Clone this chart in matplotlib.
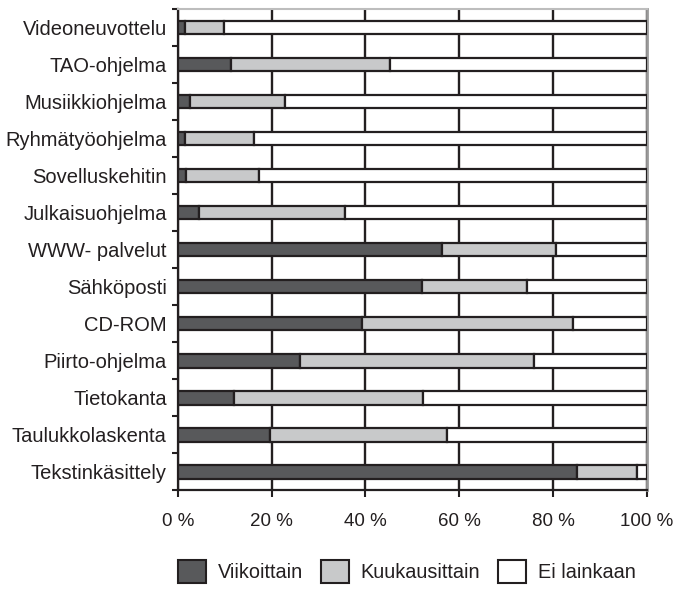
import numpy as np
import matplotlib
matplotlib.use("Agg")
import matplotlib.pyplot as plt
from matplotlib.patches import Patch

plt.rcParams["font.family"] = ["Liberation Sans", "DejaVu Sans"]

# ------------------------------
# Usage frequency by application (%)
# ------------------------------
categories = [
    "Videoneuvottelu", "TAO-ohjelma", "Musiikkiohjelma", "Ryhmätyöohjelma",
    "Sovelluskehitin", "Julkaisuohjelma", "WWW- palvelut", "Sähköposti",
    "CD-ROM", "Piirto-ohjelma", "Tietokanta", "Taulukkolaskenta",
    "Tekstinkäsittely",
]
weekly = [1.6, 11.4, 2.7, 1.5, 1.8, 4.6, 56.3, 52.1, 39.3, 26.0, 12.0, 19.6, 85.0]
monthly = [8.3, 33.9, 20.1, 14.8, 15.6, 31.0, 24.4, 22.4, 45.0, 49.9, 40.3, 37.7, 12.9]
never = [100 - w - m for w, m in zip(weekly, monthly)]

series_names = ["Viikoittain", "Kuukausittain", "Ei lainkaan"]
colors = ["#58595b", "#c8c9ca", "#ffffff"]
edge = "#231f20"

# ------------------------------
# Plot stacked bars
# ------------------------------
fig = plt.figure(figsize=(6.76, 5.90), dpi=100)
ax = fig.add_axes([0.263, 0.169, 0.694, 0.816])

y = np.arange(len(categories))[::-1]
left = np.zeros(len(categories))
for vals, col in zip([weekly, monthly, never], colors):
    ax.barh(y, vals, left=left, height=0.37, color=col,
            edgecolor=edge, linewidth=1.6, zorder=3)
    left += np.array(vals)

ax.set_xlim(0, 100)
ax.set_ylim(-0.5, len(categories) - 0.5)

ax.set_xticks(np.arange(0, 101, 20))
ax.set_xticklabels([f"{v} %" for v in range(0, 101, 20)])
ax.set_yticks(y)
ax.set_yticklabels(categories)
ax.set_yticks(np.arange(-0.5, len(categories), 1), minor=True)

ax.tick_params(axis="y", which="major", length=0, pad=8, labelsize=14.5,
               colors="#231f20")
ax.tick_params(axis="y", which="minor", length=4.5, width=1.5,
               direction="out", color=edge)
ax.tick_params(axis="x", length=5, width=1.5, direction="out", pad=11,
               labelsize=13.5, colors="#231f20")

ax.grid(axis="x", color=edge, linewidth=1.7, zorder=0)
ax.set_axisbelow(True)

ax.spines["left"].set_color(edge)
ax.spines["left"].set_linewidth(1.6)
ax.spines["bottom"].set_color(edge)
ax.spines["bottom"].set_linewidth(1.6)
ax.spines["right"].set_color("#9a9a9a")
ax.spines["right"].set_linewidth(2)
ax.spines["top"].set_color("#bdbdbd")
ax.spines["top"].set_linewidth(1.5)

handles = [Patch(facecolor=c, edgecolor=edge, linewidth=1.5) for c in colors]
fig.legend(handles, series_names, loc="center", ncol=3,
           bbox_to_anchor=(0.602, 0.032), frameon=False, fontsize=14.3,
           handlelength=1.4, handleheight=1.4, handletextpad=0.6,
           columnspacing=0.9, labelcolor="#231f20")

plt.savefig("out.png", dpi=100)
